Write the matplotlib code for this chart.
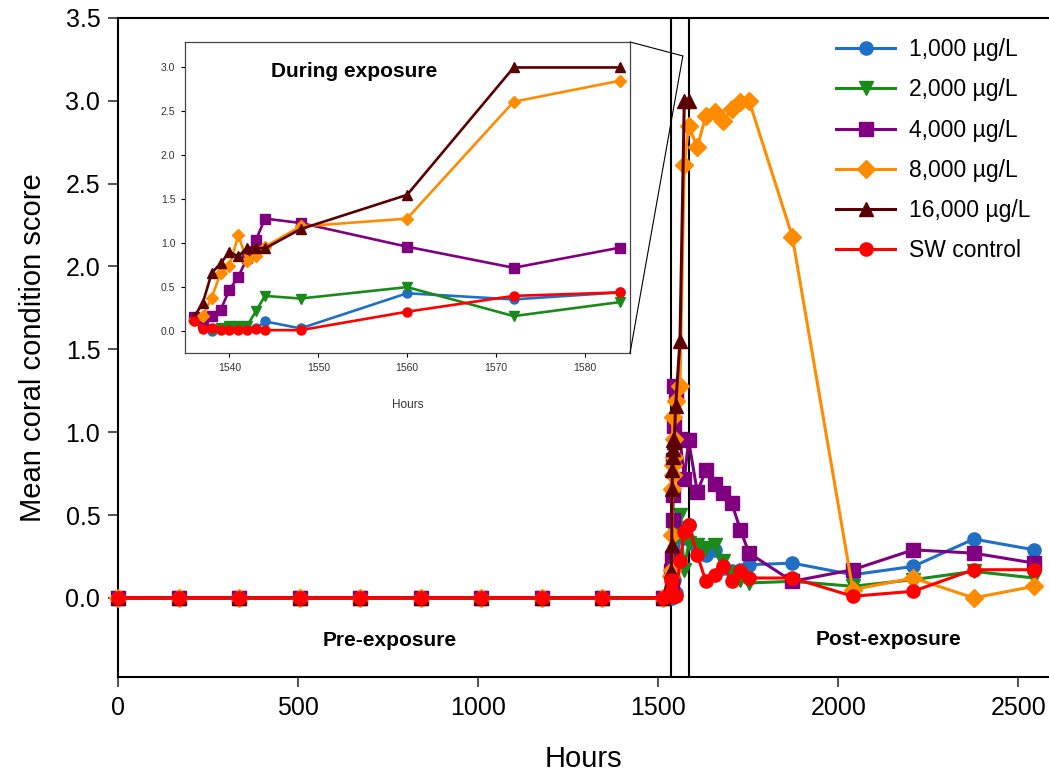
import numpy as np
import matplotlib.pyplot as plt
from matplotlib.patches import ConnectionPatch

plt.rcParams['font.family'] = ['Liberation Sans', 'DejaVu Sans']

# Sampling times [hours]
pre_hours = [0, 168, 336, 504, 672, 840, 1008, 1176, 1344, 1512]
exp_hours = [1536, 1537, 1538, 1539, 1540, 1541, 1542, 1543, 1544, 1548, 1560, 1572, 1584]
post_hours = [1608, 1632, 1656, 1680, 1704, 1728, 1752, 1872, 2040, 2208, 2376, 2544]

labels = ['1,000 µg/L', '2,000 µg/L', '4,000 µg/L', '8,000 µg/L', '16,000 µg/L', 'SW control']
colors = ['#1f6fc6', '#1a8a1a', '#800080', '#ff8c00', '#5a0000', '#ff0000']
markers = ['o', 'v', 's', 'D', '^', 'o']

# Mean scores during exposure (1536-1584 h)
exp_1000 = [0.13, 0.03, 0.00, 0.02, 0.02, 0.02, 0.02, 0.03, 0.11, 0.03, 0.43, 0.36, 0.44]
exp_2000 = [0.13, 0.03, 0.01, 0.04, 0.06, 0.06, 0.06, 0.23, 0.40, 0.37, 0.50, 0.17, 0.33]
exp_4000 = [0.16, 0.09, 0.17, 0.24, 0.47, 0.62, 0.83, 1.04, 1.28, 1.23, 0.96, 0.72, 0.95]
exp_8000 = [0.13, 0.17, 0.38, 0.66, 0.74, 1.09, 0.80, 0.85, 0.96, 1.19, 1.28, 2.61, 2.85]
exp_16000 = [0.16, 0.32, 0.66, 0.77, 0.90, 0.85, 0.95, 0.95, 0.94, 1.16, 1.55, 3.00, 3.00]
exp_sw = [0.11, 0.02, 0.03, 0.01, 0.01, 0.01, 0.01, 0.02, 0.01, 0.01, 0.22, 0.40, 0.44]

# Mean scores after exposure (16,000 ug/L not sampled after 1584 h)
post_1000 = [0.30, 0.26, 0.29, 0.18, 0.16, 0.17, 0.20, 0.21, 0.14, 0.19, 0.355, 0.29]
post_2000 = [0.32, 0.30, 0.32, 0.22, 0.15, 0.11, 0.09, 0.10, 0.07, 0.11, 0.16, 0.12]
post_4000 = [0.64, 0.77, 0.69, 0.63, 0.57, 0.41, 0.27, 0.10, 0.17, 0.29, 0.27, 0.21]
post_8000 = [2.72, 2.91, 2.93, 2.88, 2.95, 2.99, 3.00, 2.18, 0.05, 0.12, 0.00, 0.07]
post_sw = [0.26, 0.10, 0.14, 0.19, 0.10, 0.16, 0.12, 0.12, 0.01, 0.04, 0.17, 0.17]

exp_scores = [exp_1000, exp_2000, exp_4000, exp_8000, exp_16000, exp_sw]
post_scores = [post_1000, post_2000, post_4000, post_8000, [], post_sw]

fig = plt.figure(figsize=(10.49, 7.76), dpi=100)
ax = fig.add_axes([0.1128, 0.127, 0.8872, 0.85])

for i in range(len(labels)):
    hrs = pre_hours + exp_hours + post_hours[:len(post_scores[i])]
    vals = [0.0] * len(pre_hours) + exp_scores[i] + post_scores[i]
    ax.plot(hrs, vals, color=colors[i], marker=markers[i], ms=9.5, lw=2.2,
            label=labels[i], clip_on=False, zorder=3 + i)

ax.axvline(1536, color='black', lw=1.5, zorder=2)
ax.axvline(1584, color='black', lw=1.5, zorder=2)

ax.text(755, -0.26, 'Pre-exposure', fontsize=15, fontweight='bold', ha='center', va='center')
ax.text(2138, -0.25, 'Post-exposure', fontsize=15, fontweight='bold', ha='center', va='center')

ax.set_xlim(0, 2585)
ax.set_ylim(-0.48, 3.5)
ax.set_xticks([0, 500, 1000, 1500, 2000, 2500])
ax.set_yticks([0.0, 0.5, 1.0, 1.5, 2.0, 2.5, 3.0, 3.5])
ax.set_yticklabels(['0.0', '0.5', '1.0', '1.5', '2.0', '2.5', '3.0', '3.5'])
ax.tick_params(labelsize=18, length=7, width=1.2, color='#333333', pad=6)
ax.set_xlabel('Hours', fontsize=21, labelpad=18)
ax.set_ylabel('Mean coral condition score', fontsize=21, labelpad=13)
ax.spines['right'].set_visible(False)
for s in ['left', 'bottom', 'top']:
    ax.spines[s].set_linewidth(1.5)

ax.legend(loc='upper right', bbox_to_anchor=(0.995, 0.99), frameon=False, fontsize=16.5,
          handlelength=2.6, labelspacing=0.75, handletextpad=0.6, borderaxespad=0.2)

# Inset: during exposure
axin = fig.add_axes([0.1764, 0.5451, 0.4242, 0.4008])
for i in range(len(labels)):
    axin.plot(exp_hours, exp_scores[i], color=colors[i], marker=markers[i], ms=6.5, lw=1.9,
              zorder=3 + i)
axin.set_xlim(1535, 1585.1)
axin.set_ylim(-0.25, 3.29)
axin.set_xticks([1540, 1550, 1560, 1570, 1580])
axin.set_yticks([0.0, 0.5, 1.0, 1.5, 2.0, 2.5, 3.0])
axin.set_yticklabels(['0.0', '0.5', '1.0', '1.5', '2.0', '2.5', '3.0'])
axin.tick_params(labelsize=7.5, length=3, width=0.8, labelcolor='#333333', pad=4)
axin.set_xlabel('Hours', fontsize=8.5, color='#333333', labelpad=19)
for s in axin.spines.values():
    s.set_linewidth(0.9)
    s.set_color('#444444')
axin.text(0.38, 0.905, 'During exposure', transform=axin.transAxes, fontsize=15,
          fontweight='bold', ha='center', va='center')

# connector lines from inset to exposure window
for corner in [(1, 1), (1, 0)]:
    con = ConnectionPatch(xyA=corner, coordsA=axin.transAxes, xyB=(1568, 3.27),
                          coordsB=ax.transData, color='black', lw=0.8)
    fig.add_artist(con)

plt.savefig('out.png', dpi=100)
